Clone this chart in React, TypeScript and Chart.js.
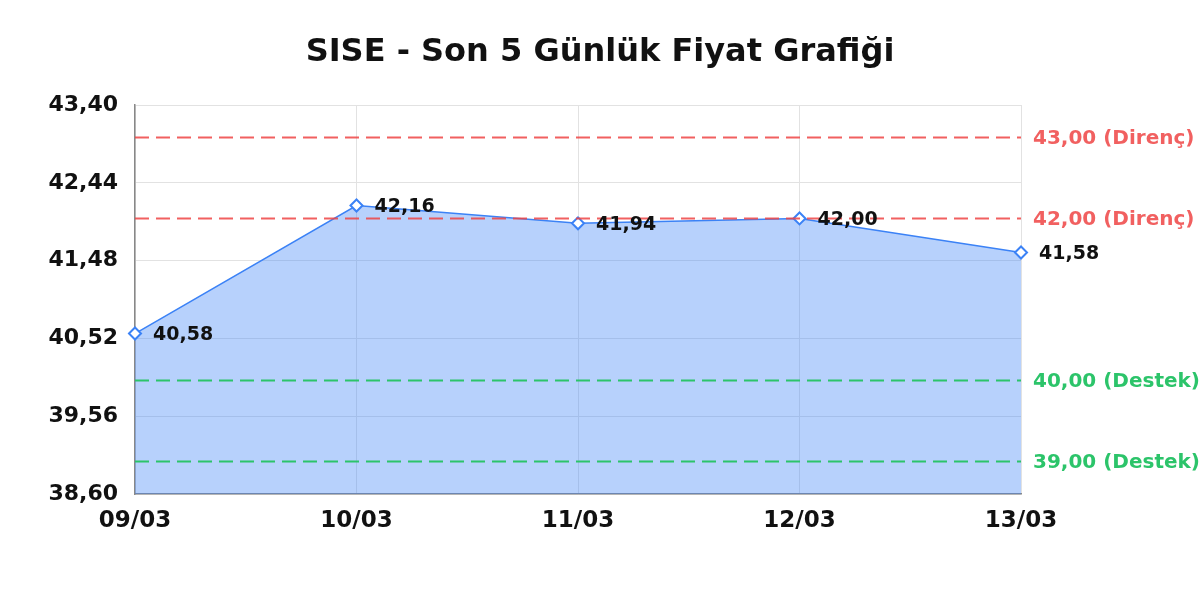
import { useEffect, useRef } from "react";
import Chart from "chart.js/auto";

const days = ["09/03", "10/03", "11/03", "12/03", "13/03"];
const prices = [40.58, 42.16, 41.94, 42.0, 41.58];
const yTicks = [38.6, 39.56, 40.52, 41.48, 42.44, 43.4];
const resistance = [43, 42];
const support = [40, 39];
const title = "SISE - Son 5 Günlük Fiyat Grafiği";

const RED = "rgba(239,68,68,0.85)";
const GREEN = "#2cc46a";
const FONT = "'DejaVu Sans', sans-serif";

const fmt = (v: number) => v.toFixed(2).replace(".", ",");

// title centred on the whole canvas, not only the plot box
const pageTitle = {
  id: "pageTitle",
  afterDraw(chart: any) {
    const { ctx, width } = chart;
    ctx.save();
    ctx.fillStyle = "#111";
    ctx.font = `bold 32px ${FONT}`;
    ctx.textAlign = "center";
    ctx.textBaseline = "alphabetic";
    ctx.fillText(title, width / 2, 61);
    ctx.restore();
  },
};

// dashed support / resistance lines with their labels on the right
const levelLines = {
  id: "levelLines",
  afterDatasetsDraw(chart: any) {
    const { ctx, chartArea, scales } = chart;
    const draw = (v: number, color: string, text: string) => {
      const y = scales.y.getPixelForValue(v);
      ctx.save();
      ctx.strokeStyle = color;
      ctx.lineWidth = 2;
      ctx.setLineDash([14, 7]);
      ctx.beginPath();
      ctx.moveTo(chartArea.left, y);
      ctx.lineTo(chartArea.right, y);
      ctx.stroke();
      ctx.fillStyle = color;
      ctx.font = `bold 20px ${FONT}`;
      ctx.textAlign = "left";
      ctx.textBaseline = "middle";
      ctx.fillText(text, chartArea.right + 12, y + 1);
      ctx.restore();
    };
    resistance.forEach((v) => draw(v, RED, `${fmt(v)} (Direnç)`));
    support.forEach((v) => draw(v, GREEN, `${fmt(v)} (Destek)`));
  },
};

// value next to each point
const pointLabels = {
  id: "pointLabels",
  afterDraw(chart: any) {
    const { ctx } = chart;
    const meta = chart.getDatasetMeta(0);
    ctx.save();
    ctx.fillStyle = "#111";
    ctx.font = `bold 19px ${FONT}`;
    ctx.textAlign = "left";
    ctx.textBaseline = "middle";
    meta.data.forEach((pt: any, i: number) => {
      ctx.fillText(fmt(prices[i]), pt.x + 18, pt.y + 2);
    });
    ctx.restore();
  },
};

export default function App() {
  const canvasRef = useRef<HTMLCanvasElement | null>(null);
  const chartRef = useRef<Chart | null>(null);

  useEffect(() => {
    const ctx = canvasRef.current!.getContext("2d")!;
    if (chartRef.current) chartRef.current.destroy();

    chartRef.current = new Chart(ctx, {
      type: "line",
      data: {
        labels: days,
        datasets: [
          {
            label: "SISE",
            data: prices,
            borderColor: "#3b82f6",
            borderWidth: 1.5,
            backgroundColor: "rgba(59,130,246,0.37)",
            fill: "start",
            tension: 0,
            pointStyle: "rectRot",
            pointRadius: 6,
            pointBorderWidth: 2,
            pointBackgroundColor: "#fff",
            pointBorderColor: "#3b82f6",
            clip: false,
          },
        ],
      },
      options: {
        responsive: true,
        maintainAspectRatio: false,
        animation: false,
        layout: { padding: { left: 0, right: 179, top: 105, bottom: 0 } },
        plugins: {
          legend: { display: false },
          tooltip: { enabled: false },
          title: { display: false },
        },
        scales: {
          x: {
            offset: false,
            grid: { color: "#e2e2e2", drawTicks: false },
            border: { color: "#888", width: 1.5 },
            ticks: {
              color: "#111",
              padding: 13,
              maxRotation: 0,
              font: { family: FONT, size: 23, weight: "bold" },
            },
            afterFit: (s: any) => {
              s.height = 106;
            },
          },
          y: {
            min: 38.6,
            max: 43.4,
            grid: { color: "#e2e2e2", drawTicks: false },
            border: { color: "#888", width: 1.5 },
            ticks: {
              color: "#111",
              padding: 17,
              font: { family: FONT, size: 22, weight: "bold" },
              callback: (v: any) => fmt(Number(v)),
            },
            afterBuildTicks: (s: any) => {
              s.ticks = yTicks.map((v) => ({ value: v }));
            },
            afterFit: (s: any) => {
              s.width = 135;
            },
          },
        },
      },
      plugins: [levelLines, pointLabels, pageTitle],
    });

    return () => chartRef.current?.destroy();
  }, []);

  return (
    <div style={{ position: "absolute", left: 0, top: 0, width: 1200, height: 600, background: "#fff" }}>
      <canvas ref={canvasRef}></canvas>
    </div>
  );
}
